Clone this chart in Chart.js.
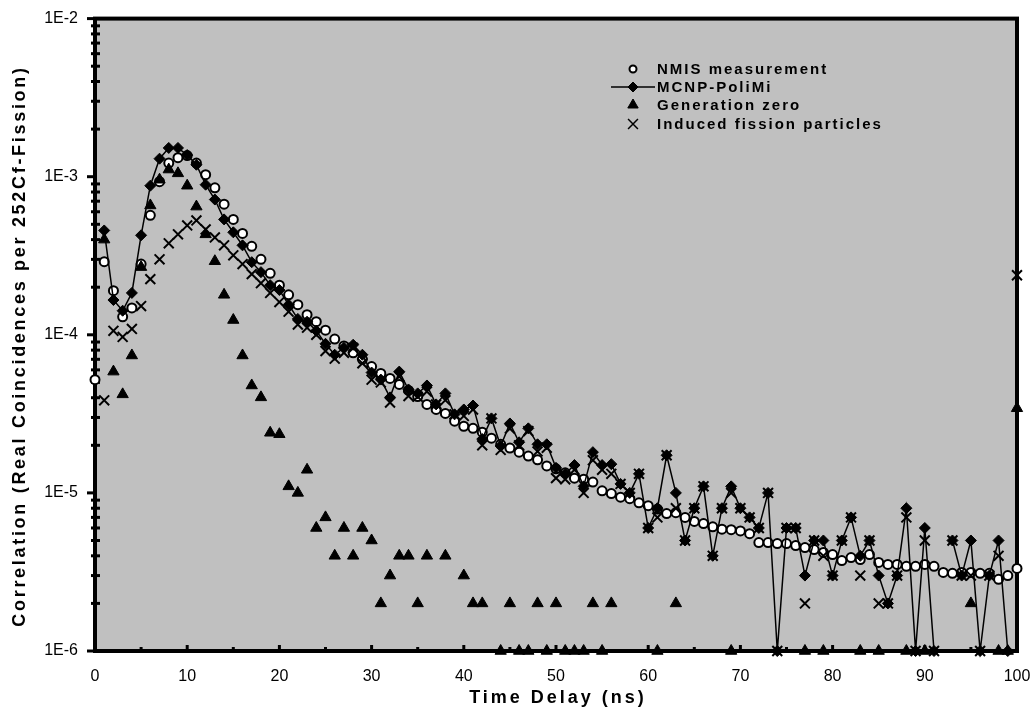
<!DOCTYPE html>
<html>
<head>
<meta charset="utf-8">
<script src="https://cdn.jsdelivr.net/npm/chart.js@4.4.1/dist/chart.umd.min.js"></script>
<style>
  html, body { margin: 0; padding: 0; background: #fff; }
  canvas { display: block; }
</style>
</head>
<body>
<canvas id="corrChart" width="1030" height="726"></canvas>
<script>
// Tiempo de retardo (ns)
const timeDelay = [0,1,2,3,4,5,6,7,8,9,10,11,12,13,14,15,16,17,18,19,20,
  21,22,23,24,25,26,27,28,29,30,31,32,33,34,35,36,37,38,39,40,
  41,42,43,44,45,46,47,48,49,50,51,52,53,54,55,56,57,58,59,60,
  61,62,63,64,65,66,67,68,69,70,71,72,73,74,75,76,77,78,79,80,
  81,82,83,84,85,86,87,88,89,90,91,92,93,94,95,96,97,98,99,100];

// NMIS measurement (círculos blancos)
const nmis = [5.2e-5,2.9e-4,1.9e-4,1.3e-4,1.48e-4,2.8e-4,5.7e-4,9.3e-4,1.22e-3,1.32e-3,1.36e-3,
  1.22e-3,1.03e-3,8.5e-4,6.7e-4,5.37e-4,4.38e-4,3.63e-4,3.0e-4,2.45e-4,2.06e-4,
  1.79e-4,1.55e-4,1.34e-4,1.21e-4,1.07e-4,9.4e-5,8.5e-5,7.7e-5,7.0e-5,6.3e-5,
  5.7e-5,5.3e-5,4.85e-5,4.45e-5,4.07e-5,3.63e-5,3.37e-5,3.18e-5,2.84e-5,2.64e-5,
  2.56e-5,2.42e-5,2.22e-5,2.03e-5,1.92e-5,1.81e-5,1.71e-5,1.62e-5,1.48e-5,1.42e-5,
  1.34e-5,1.24e-5,1.22e-5,1.17e-5,1.03e-5,9.9e-6,9.4e-6,9.2e-6,8.65e-6,8.3e-6,
  7.9e-6,7.4e-6,7.5e-6,7.0e-6,6.6e-6,6.4e-6,6.1e-6,5.9e-6,5.85e-6,5.75e-6,
  5.52e-6,4.85e-6,4.85e-6,4.78e-6,4.78e-6,4.64e-6,4.51e-6,4.38e-6,4.2e-6,4.07e-6,
  3.73e-6,3.9e-6,3.79e-6,4.07e-6,3.63e-6,3.53e-6,3.53e-6,3.43e-6,3.43e-6,3.53e-6,
  3.43e-6,3.14e-6,3.1e-6,3.14e-6,3.14e-6,3.1e-6,3.1e-6,2.84e-6,3.0e-6,3.33e-6];

// MCNP-PoliMi (rombos negros con línea)
const mcnp = [null,4.57e-4,1.66e-4,1.42e-4,1.84e-4,4.26e-4,8.77e-4,1.30e-3,1.52e-3,1.52e-3,1.37e-3,
  1.19e-3,8.9e-4,7.17e-4,5.37e-4,4.45e-4,3.68e-4,2.88e-4,2.49e-4,2.06e-4,1.92e-4,
  1.55e-4,1.26e-4,1.21e-4,1.06e-4,8.77e-5,7.48e-5,8.28e-5,8.65e-5,7.48e-5,5.77e-5,
  5.21e-5,4.02e-5,5.85e-5,4.51e-5,4.26e-5,4.78e-5,3.63e-5,4.26e-5,3.14e-5,3.37e-5,
  3.57e-5,2.19e-5,2.96e-5,1.98e-5,2.75e-5,2.09e-5,2.56e-5,2.03e-5,2.03e-5,1.44e-5,
  1.32e-5,1.5e-5,1.1e-5,1.81e-5,1.5e-5,1.52e-5,1.14e-5,1.0e-5,1.32e-5,6e-6,
  8e-6,1.73e-5,1.0e-5,5e-6,8e-6,1.1e-5,4e-6,8e-6,1.1e-5,8e-6,
  7e-6,6e-6,1.0e-5,1e-6,6e-6,6e-6,3e-6,5e-6,5e-6,3e-6,
  5e-6,7e-6,4e-6,5e-6,3e-6,2e-6,3e-6,8e-6,1e-6,6e-6,
  1e-6,null,5e-6,3e-6,5e-6,1e-6,3e-6,5e-6,1e-6,null];

// Generation zero (triángulos)
const genZero = [null,4.0e-4,5.85e-5,4.2e-5,7.4e-5,2.68e-4,6.58e-4,9.57e-4,1.11e-3,1.05e-3,8.77e-4,
  6.47e-4,4.32e-4,2.92e-4,1.79e-4,1.24e-4,7.4e-5,4.78e-5,4.02e-5,2.4e-5,2.35e-5,
  1.1e-5,1.0e-5,1.4e-5,6e-6,7e-6,4e-6,6e-6,4e-6,6e-6,5e-6,
  2e-6,3e-6,4e-6,4e-6,2e-6,4e-6,null,4e-6,null,3e-6,
  2e-6,2e-6,null,1e-6,2e-6,1e-6,1e-6,2e-6,1e-6,2e-6,
  1e-6,1e-6,1e-6,2e-6,1e-6,2e-6,null,null,null,null,
  1e-6,null,2e-6,null,null,null,null,null,1e-6,null,
  null,null,null,null,null,null,1e-6,null,1e-6,null,
  null,null,1e-6,null,1e-6,null,null,1e-6,null,1e-6,
  null,null,null,null,2e-6,null,null,1e-6,1e-6,3.43e-5];

// Induced fission particles (cruces)
const induced = [null,3.85e-5,1.06e-4,9.7e-5,1.09e-4,1.52e-4,2.25e-4,3.0e-4,3.79e-4,4.32e-4,4.92e-4,
  5.29e-4,4.64e-4,4.13e-4,3.68e-4,3.18e-4,2.8e-4,2.42e-4,2.12e-4,1.84e-4,1.61e-4,
  1.4e-4,1.16e-4,1.11e-4,1.0e-4,7.9e-5,7.06e-5,7.7e-5,8.25e-5,6.6e-5,5.2e-5,
  5.0e-5,3.73e-5,5.45e-5,4.1e-5,4.06e-5,4.38e-5,3.63e-5,3.86e-5,3.14e-5,3.07e-5,
  3.37e-5,2.0e-5,2.96e-5,1.87e-5,2.55e-5,2.0e-5,2.46e-5,1.83e-5,1.93e-5,1.24e-5,
  1.22e-5,1.4e-5,1.0e-5,1.61e-5,1.4e-5,1.32e-5,1.14e-5,1.0e-5,1.32e-5,6e-6,
  7e-6,1.73e-5,8e-6,5e-6,8e-6,1.1e-5,4e-6,8e-6,1.0e-5,8e-6,
  7e-6,6e-6,1.0e-5,1e-6,6e-6,6e-6,2e-6,5e-6,4e-6,3e-6,
  5e-6,7e-6,3e-6,5e-6,2e-6,2e-6,3e-6,7e-6,1e-6,5e-6,
  1e-6,null,5e-6,3e-6,3e-6,1e-6,3e-6,4e-6,null,2.38e-4];

const yDecades = [-6, -5, -4, -3, -2];

const FONT = "'Liberation Sans', Arial, sans-serif";

function toPoints(values) {
    return timeDelay.map((t, i) => ({ x: t, y: values[i] }));
}

function isDecade(v) {
    const e = Math.log10(v);
    return Math.abs(e - Math.round(e)) < 1e-9;
}

// --- Fondo gris, marco grueso y marcas de los ejes ---
const framePlugin = {
    id: 'frame',
    beforeDatasetsDraw(chart) {
        const { ctx, chartArea: a } = chart;
        const xs = chart.scales.x, ys = chart.scales.y;
        ctx.save();
        ctx.fillStyle = '#c0c0c0';
        ctx.fillRect(a.left, a.top, a.right - a.left, a.bottom - a.top);
        ctx.strokeStyle = '#000';
        ctx.lineWidth = 3;
        ys.ticks.forEach(t => {
            const py = ys.getPixelForValue(t.value);
            ctx.beginPath();
            if (isDecade(t.value)) {
                ctx.moveTo(a.left - 8, py); ctx.lineTo(a.left, py);
            } else {
                ctx.moveTo(a.left - 4, py); ctx.lineTo(a.left + 5, py);
            }
            ctx.stroke();
        });
        xs.ticks.forEach(t => {
            const px = xs.getPixelForValue(t.value);
            const len = (t.value % 10 === 0) ? 6 : 4;
            ctx.beginPath();
            ctx.moveTo(px, a.bottom);
            ctx.lineTo(px, a.bottom - len);
            ctx.stroke();
        });
        ctx.lineWidth = 4;
        ctx.strokeRect(a.left, a.top, a.right - a.left, a.bottom - a.top);
        ctx.restore();
    },
    afterDraw(chart) {
        const { ctx, chartArea: a } = chart;
        ctx.save();
        ctx.fillStyle = '#000';
        ctx.font = 'bold 18px ' + FONT;
        ctx.letterSpacing = '3px';
        ctx.textAlign = 'center';
        ctx.textBaseline = 'middle';
        ctx.fillText('Time Delay (ns)', (a.left + a.right) / 2 + 2, 698);
        ctx.letterSpacing = '2.7px';
        ctx.translate(20, 346);
        ctx.rotate(-Math.PI / 2);
        ctx.fillText('Correlation (Real Coincidences per 252Cf-Fission)', 0, 0);
        ctx.restore();
    }
};

// --- Leyenda dentro del área del gráfico ---
const legendItems = [
    { text: 'NMIS measurement', style: 'circle', radius: 3.5, fill: '#fff', border: 2, line: false },
    { text: 'MCNP-PoliMi', style: 'rectRot', radius: 5, fill: '#000', border: 1, line: true },
    { text: 'Generation zero', style: 'triangle', radius: 6, fill: '#000', border: 1, line: false },
    { text: 'Induced fission particles', style: 'crossRot', radius: 7, fill: '#000', border: 1.5, line: false }
];
const legendPlugin = {
    id: 'insideLegend',
    afterDraw(chart) {
        const ctx = chart.ctx;
        const mx = 633, tx = 657;
        const rows = [69, 87, 105, 124];
        ctx.save();
        legendItems.forEach((it, i) => {
            const y = rows[i];
            ctx.strokeStyle = '#000';
            if (it.line) {
                ctx.lineWidth = 1.5;
                ctx.beginPath();
                ctx.moveTo(611, y); ctx.lineTo(655, y);
                ctx.stroke();
            }
            ctx.fillStyle = it.fill;
            ctx.lineWidth = it.border;
            Chart.helpers.drawPoint(ctx, { pointStyle: it.style, radius: it.radius, rotation: 0, borderWidth: it.border }, mx, y);
            ctx.fillStyle = '#000';
            ctx.font = 'bold 15px ' + FONT;
            ctx.letterSpacing = '2px';
            ctx.textAlign = 'left';
            ctx.textBaseline = 'middle';
            ctx.fillText(it.text, tx, y + 1);
        });
        ctx.restore();
    }
};

const ctx = document.getElementById('corrChart').getContext('2d');
const corrChart = new Chart(ctx, {
    type: 'scatter',
    data: {
        datasets: [
            {
                label: 'NMIS measurement',
                data: toPoints(nmis),
                pointStyle: 'circle',
                pointRadius: 4.5,
                pointBorderWidth: 2,
                backgroundColor: '#fff',
                borderColor: '#000',
                showLine: false,
                order: 4,
                clip: false
            },
            {
                label: 'MCNP-PoliMi',
                data: toPoints(mcnp),
                pointStyle: 'rectRot',
                pointRadius: 5.5,
                pointBorderWidth: 1,
                backgroundColor: '#000',
                borderColor: '#000',
                borderWidth: 1.5,
                showLine: true,
                spanGaps: false,
                tension: 0,
                order: 3,
                clip: false
            },
            {
                label: 'Generation zero',
                data: toPoints(genZero),
                pointStyle: 'triangle',
                pointRadius: 6.5,
                pointBorderWidth: 1,
                backgroundColor: '#000',
                borderColor: '#000',
                showLine: false,
                order: 2,
                clip: false
            },
            {
                label: 'Induced fission particles',
                data: toPoints(induced),
                pointStyle: 'crossRot',
                pointRadius: 7,
                pointBorderWidth: 2,
                backgroundColor: '#000',
                borderColor: '#000',
                showLine: false,
                order: 1,
                clip: false
            }
        ]
    },
    options: {
        responsive: false,
        animation: false,
        devicePixelRatio: 1,
        layout: { padding: { left: 0, top: 15, right: 13, bottom: 0 } },
        scales: {
            x: {
                type: 'linear',
                min: 0,
                max: 100,
                grid: { display: false },
                border: { display: false },
                ticks: {
                    stepSize: 5,
                    autoSkip: false,
                    maxRotation: 0,
                    padding: 8,
                    color: '#000',
                    font: { family: FONT, size: 16 },
                    callback: v => (v % 10 === 0 ? String(v) : '')
                },
                afterFit(scale) {
                    scale.height = 75;
                    scale.paddingLeft = 0;
                    scale.paddingRight = 0;
                }
            },
            y: {
                type: 'logarithmic',
                min: 1e-6,
                max: 1e-2,
                grid: { display: false },
                border: { display: false },
                afterBuildTicks(scale) {
                    const t = [];
                    yDecades.forEach(e => {
                        for (let m = 1; m <= 9; m++) {
                            if (e === -2 && m > 1) break;
                            t.push({ value: m * Math.pow(10, e) });
                        }
                    });
                    scale.ticks = t;
                },
                ticks: {
                    autoSkip: false,
                    padding: 9,
                    color: '#000',
                    font: { family: FONT, size: 16 },
                    callback: v => (isDecade(v) ? '1E' + Math.round(Math.log10(v)) : '')
                },
                afterFit(scale) {
                    scale.width = 95;
                }
            }
        },
        plugins: {
            legend: { display: false },
            tooltip: { enabled: false }
        }
    },
    plugins: [framePlugin, legendPlugin]
});
</script>
</body>
</html>
